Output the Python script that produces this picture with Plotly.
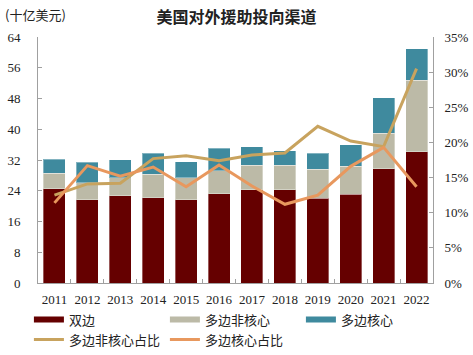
import plotly.graph_objects as go

years = ["2011","2012","2013","2014","2015","2016","2017","2018","2019","2020","2021","2022"]
bilateral = [24.5, 21.6, 22.7, 22.2, 21.6, 23.2, 24.2, 24.2, 22.0, 23.1, 29.7, 34.1]
multi_noncore = [4.0, 4.5, 4.7, 6.1, 5.8, 6.0, 6.5, 6.5, 7.6, 7.3, 9.3, 18.7]
multi_core = [3.7, 5.3, 4.7, 5.5, 4.2, 5.9, 4.7, 3.7, 4.1, 5.6, 9.2, 8.2]
noncore_share = [12.5, 14.1, 14.2, 17.7, 18.1, 17.4, 18.2, 18.5, 22.3, 20.2, 19.4, 30.5]
core_share = [11.4, 16.7, 15.2, 16.5, 13.7, 16.8, 13.8, 11.2, 12.5, 16.6, 19.3, 13.7]
left_ticks = [0, 8, 16, 24, 32, 40, 48, 56, 64]
right_ticks = [0, 5, 10, 15, 20, 25, 30, 35]

serif = "Liberation Serif, Times New Roman, serif"
cjk = "Noto Sans CJK SC"

c_bi, c_nc, c_core = "#650000", "#bcbaa7", "#3f8a9e"
c_ncs, c_cs = "#c8a35e", "#e8985e"

fig = go.Figure()
edge = dict(color="rgba(255,255,255,0.35)", width=1)
fig.add_bar(x=years, y=bilateral, name="双边", marker=dict(color=c_bi, line=edge), showlegend=False)
fig.add_bar(x=years, y=multi_noncore, name="多边非核心", marker=dict(color=c_nc, line=edge), showlegend=False)
fig.add_bar(x=years, y=multi_core, name="多边核心", marker=dict(color=c_core, line=edge), showlegend=False)
fig.add_scatter(x=years, y=noncore_share, name="多边非核心占比", yaxis="y2", mode="lines",
                line=dict(color=c_ncs, width=3), legendrank=4)
fig.add_scatter(x=years, y=core_share, name="多边核心占比", yaxis="y2", mode="lines",
                line=dict(color=c_cs, width=3), legendrank=5)
# legend-only entries for the bar series (wide rectangle swatches)
for i, (nm, col) in enumerate([("双边", c_bi), ("多边非核心", c_nc), ("多边核心", c_core)]):
    fig.add_scatter(x=[None], y=[None], name=nm, mode="lines",
                    line=dict(color=col, width=6), legendrank=i + 1)

fig.update_layout(
    width=473, height=355,
    margin=dict(l=38, r=40, t=37, b=72, autoexpand=False),
    barmode="stack", bargap=0.33,
    plot_bgcolor="white", paper_bgcolor="white",
    showlegend=True,
    font=dict(family=serif, size=13, color="#222"),
    title=dict(text="<b>美国对外援助投向渠道</b>", x=0.5, xanchor="center", y=0.952, yanchor="middle",
               font=dict(family=cjk, size=16, color="#222")),
    xaxis=dict(type="category", showline=True, linecolor="#a0a0a0", linewidth=1,
               ticks="inside", ticklen=4, tickcolor="#a0a0a0", tickson="boundaries",
               tickangle=0, automargin=False, ticklabelstandoff=4,
               tickfont=dict(family=serif, size=13, color="#222")),
    yaxis=dict(range=[0, 64], tickvals=left_ticks, showgrid=False, automargin=False,
               showline=True, linecolor="#a0a0a0", linewidth=1, ticks="inside", ticklen=4,
               tickcolor="#a0a0a0", zeroline=False, ticklabelstandoff=14,
               tickfont=dict(family=serif, size=13, color="#222")),
    yaxis2=dict(range=[0, 35], tickvals=right_ticks, ticktext=[f"{v}%" for v in right_ticks],
                overlaying="y", side="right", showgrid=False, showline=True, automargin=False,
                linecolor="#a0a0a0", linewidth=1, ticks="inside", ticklen=4,
                tickcolor="#a0a0a0", zeroline=False, ticklabelstandoff=8,
                tickfont=dict(family=serif, size=13, color="#222")),
    legend=dict(orientation="h", x=-0.023, xanchor="left", y=-0.088, yanchor="top",
                entrywidth=91, entrywidthmode="pixels", traceorder="normal",
                font=dict(family=cjk, size=13, color="#222"), tracegroupgap=0,
                itemwidth=30),
    annotations=[dict(text="(十亿美元)", xref="paper", yref="paper", x=-0.088, y=1.093,
                      xanchor="left", yanchor="middle", showarrow=False,
                      font=dict(family=cjk, size=13, color="#222"))],
)

fig.write_html("out.html", config={"displayModeBar": False},
               post_script="document.body.style.margin='0';document.body.style.padding='0';")
